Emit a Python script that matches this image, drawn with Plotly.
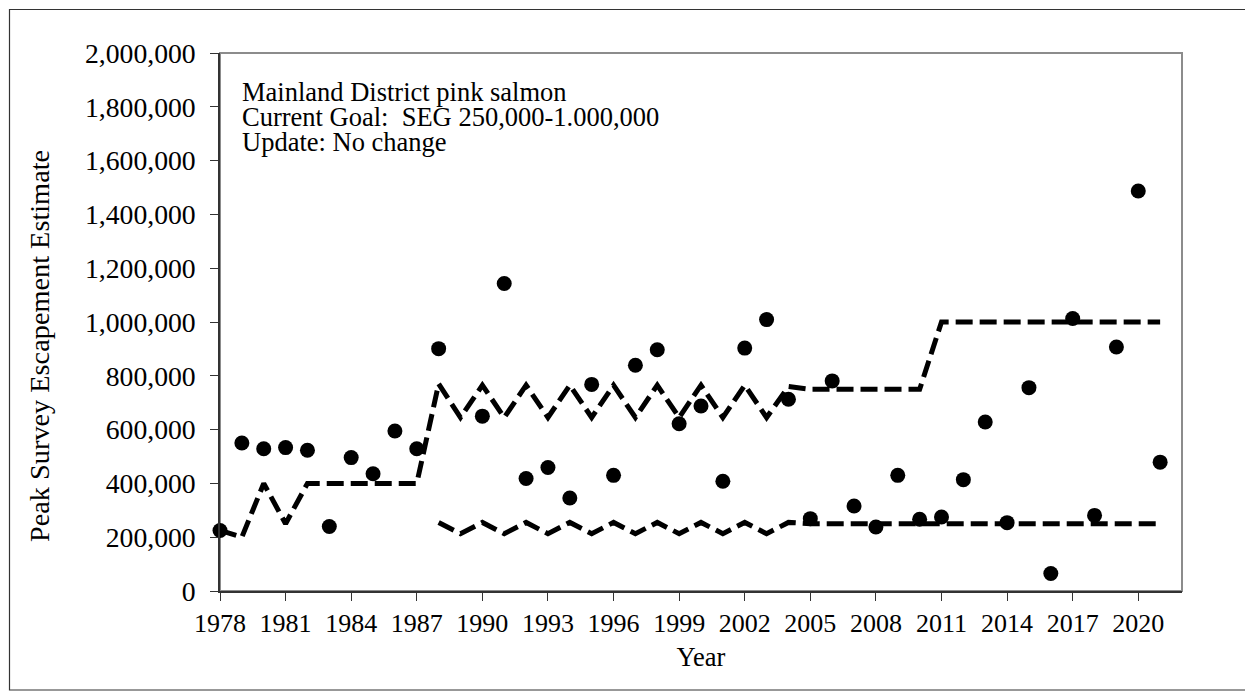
import plotly.graph_objects as go

years = list(range(1978, 2022))
escapement = [225000, 550000, 529000, 533000, 523000, 240000, 496000, 436000, 595000, 529000,
              901000, None, 650000, 1143000, 418000, 459000, 346000, 768000, 430000, 839000,
              897000, 622000, 688000, 408000, 903000, 1009000, 713000, 269000, 781000, 316000,
              238000, 430000, 267000, 275000, 414000, 628000, 254000, 756000, 65000, 1013000,
              281000, 907000, 1487000, 479000]
upper_goal = [225000, 200000, 400000, 250000, 400000, 400000, 400000, 400000, 400000, 400000,
              770000, 645000, 765000, 645000, 765000, 645000, 765000, 645000, 765000, 645000,
              765000, 645000, 765000, 645000, 765000, 645000, 760000, 750000, 750000, 750000,
              750000, 750000, 750000, 1000000, 1000000, 1000000, 1000000, 1000000, 1000000, 1000000,
              1000000, 1000000, 1000000, 1000000]
lower_years = list(range(1988, 2022))
lower_goal = [255000, 213000, 255000, 213000, 255000, 213000, 255000, 213000, 255000, 213000,
              255000, 213000, 255000, 213000, 255000, 213000, 255000, 250000, 250000, 250000,
              250000, 250000, 250000, 250000, 250000, 250000, 250000, 250000, 250000, 250000,
              250000, 250000, 250000, 250000]
tick_years = list(range(1978, 2021, 3))
y_ticks = list(range(0, 2000001, 200000))
note_lines = ["Mainland District pink salmon",
              "Current Goal:  SEG 250,000-1.000,000",
              "Update: No change"]
y_title = "Peak Survey Escapement Estimate"

FONT = "Liberation Serif, Times New Roman, serif"
OFF = 8                      # browser body margin
FW, FH = 1253 - OFF, 696 - OFF
# plot area in page pixels
L, R, T, B = 220, 1182, 53, 591
W, H = R - L, B - T

def px(p):
    return (p - L) / W

def py(p):
    return (B - p) / H

fig = go.Figure()
dash = "17px,7px"
fig.add_trace(go.Scatter(x=years, y=upper_goal, mode="lines",
                         line=dict(color="black", width=5, dash=dash), hoverinfo="skip"))
fig.add_trace(go.Scatter(x=lower_years, y=lower_goal, mode="lines",
                         line=dict(color="black", width=5, dash=dash), hoverinfo="skip"))
fig.add_trace(go.Scatter(x=years, y=escapement, mode="markers",
                         marker=dict(color="black", size=15), cliponaxis=False))

fig.update_layout(
    width=FW, height=FH,
    margin=dict(l=L - OFF, r=FW - (R - OFF), t=T - OFF, b=FH - (B - OFF)),
    paper_bgcolor="white", plot_bgcolor="white",
    showlegend=False,
    font=dict(family=FONT, color="black", size=26),
    xaxis=dict(range=[1978, 2022], tickmode="array", tickvals=tick_years,
               ticktext=[str(v) for v in tick_years],
               ticks="outside", ticklen=8, tickcolor="#333", tickwidth=1,
               showline=True, linecolor="#333", linewidth=1.5,
               showgrid=False, zeroline=False,
               tickfont=dict(family=FONT, size=26),
               title=dict(text="Year", font=dict(family=FONT, size=26.5), standoff=10)),
    yaxis=dict(range=[0, 2000000], tickmode="array", tickvals=y_ticks,
               ticktext=[f"{v:,}" for v in y_ticks],
               ticks="outside", ticklen=8, tickcolor="#333", tickwidth=1,
               showline=True, linecolor="#333", linewidth=1.5,
               showgrid=False, zeroline=False,
               tickfont=dict(family=FONT, size=27.7),
               ticklabelstandoff=9),
)

# plot-area frame (gray) and outer chart border
fig.add_shape(type="rect", xref="paper", yref="paper", x0=0, y0=0, x1=1, y1=1,
              line=dict(color="#8c8c8c", width=2), layer="below")
fig.add_shape(type="rect", xref="paper", yref="paper",
              x0=px(9.5), x1=px(1247), y0=py(690), y1=py(9.5),
              line=dict(color="#333", width=1.2), layer="below")

fig.add_annotation(text=y_title, xref="paper", yref="paper", x=px(40), y=py(346),
                   xanchor="center", yanchor="middle", textangle=-90, showarrow=False,
                   font=dict(family=FONT, size=28.3, color="black"))

for i, txt in enumerate(note_lines):
    fig.add_annotation(text=txt, xref="paper", yref="paper",
                       x=px(240), y=py(92 + 25 * i), xanchor="left", yanchor="middle",
                       showarrow=False, font=dict(family=FONT, size=26.5, color="black"))

fig.write_html("out.html")
